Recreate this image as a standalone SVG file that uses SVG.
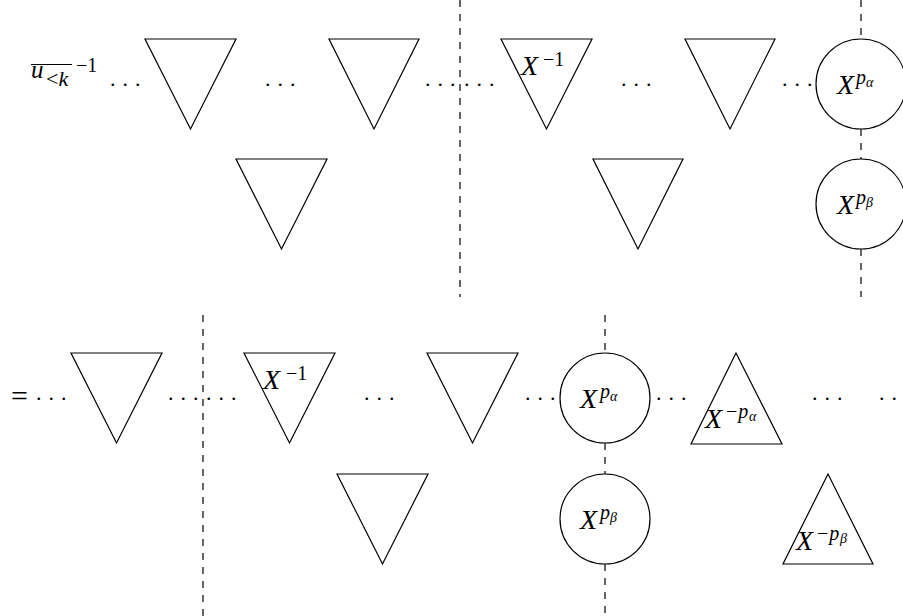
<svg xmlns="http://www.w3.org/2000/svg" width="903" height="616" viewBox="0 0 903 616">
<style>
.sh{fill:#fff;stroke:#000;stroke-width:1.2;stroke-linejoin:miter}
.dash{stroke:#000;stroke-width:1.2;stroke-dasharray:7 7;fill:none}
text{font-family:"Liberation Serif","Times New Roman",serif;fill:#000}
.it{font-style:italic}
.big{font-size:28px}
.sup{font-size:20px}
.sub{font-size:14px}
.dots{font-size:22px;letter-spacing:7px}
</style>
<rect width="903" height="616" fill="#fff"/>
<g id="connectors">
<line class="dash" x1="460" y1="0" x2="460" y2="297"/>
<line class="dash" x1="861" y1="0" x2="861" y2="39"/>
<line class="dash" x1="861" y1="129" x2="861" y2="159"/>
<line class="dash" x1="861" y1="249" x2="861" y2="297"/>
<line class="dash" x1="203" y1="315" x2="203" y2="616"/>
<line class="dash" x1="605" y1="315" x2="605" y2="353"/>
<line class="dash" x1="605" y1="443" x2="605" y2="474"/>
<line class="dash" x1="605" y1="564" x2="605" y2="616"/>
</g>
<g id="prefix">
<line x1="31" y1="64.5" x2="72" y2="64.5" stroke="#000" stroke-width="1"/>
<text x="31" y="78" class="it" style="font-size:25px">u</text>
<text x="46" y="86" style="font-size:22px">&lt;<tspan class="it">k</tspan></text>
<text x="76" y="72" class="sup">−1</text>
</g>
<g id="dots">
<text x="110" y="85.5" class="dots">...</text>
<text x="265" y="85.5" class="dots">...</text>
<text x="425" y="85.5" class="dots">...</text>
<text x="464" y="85.5" class="dots">...</text>
<text x="621" y="85.5" class="dots">...</text>
<text x="782" y="85.5" class="dots">...</text>
<text x="11" y="406" style="font-size:30px">=</text>
<text x="36" y="399.5" class="dots">...</text>
<text x="168" y="399.5" class="dots">...</text>
<text x="206" y="399.5" class="dots">...</text>
<text x="364" y="399.5" class="dots">...</text>
<text x="525" y="399.5" class="dots">...</text>
<text x="656" y="399.5" class="dots">...</text>
<text x="812" y="399.5" class="dots">...</text>
<text x="879" y="399.5" class="dots">...</text>
</g>
<g id="t1"><polygon class="sh" points="145,39 236,39 190.5,129"/></g>
<g id="t2"><polygon class="sh" points="329,39 419,39 374,129"/></g>
<g id="t3"><polygon class="sh" points="501,39 592,39 546.5,129"/>
<text x="521" y="75" class="it big">X</text><text x="543" y="66" class="sup">−1</text></g>
<g id="t4"><polygon class="sh" points="685,39 775,39 730,129"/></g>
<g id="t5"><polygon class="sh" points="236,159 327,159 281.5,249"/></g>
<g id="t6"><polygon class="sh" points="593,159 683,159 638,249"/></g>
<g id="c1"><circle class="sh" cx="861" cy="84" r="45"/>
<text x="837" y="94" class="it big">X</text><text x="856" y="84" class="it sup">p</text><text x="866" y="87" class="it sub">α</text></g>
<g id="c2"><circle class="sh" cx="861" cy="204" r="45"/>
<text x="837" y="214" class="it big">X</text><text x="856" y="204" class="it sup">p</text><text x="866" y="207" class="it sub">β</text></g>
<g id="b1"><polygon class="sh" points="71,353 162,353 116.5,443"/></g>
<g id="b2"><polygon class="sh" points="244,353 335,353 289.5,443"/>
<text x="263" y="389" class="it big">X</text><text x="286" y="380" class="sup">−1</text></g>
<g id="b3"><polygon class="sh" points="427,353 518,353 472.5,443"/></g>
<g id="b4"><polygon class="sh" points="337,474 428,474 382.5,564"/></g>
<g id="bc1"><circle class="sh" cx="605" cy="398" r="45"/>
<text x="580" y="407.5" class="it big">X</text><text x="600" y="397.5" class="it sup">p</text><text x="610" y="400.5" class="it sub">α</text></g>
<g id="bc2"><circle class="sh" cx="605" cy="519" r="45"/>
<text x="580" y="528.5" class="it big">X</text><text x="600" y="518.5" class="it sup">p</text><text x="610" y="521.5" class="it sub">β</text></g>
<g id="u1"><polygon class="sh" points="736,353 691,444 782,444"/>
<text x="705" y="428" class="it big">X</text><text x="726" y="418" class="sup">−<tspan class="it" dx="1">p</tspan></text><text x="749" y="421" class="it sub">α</text></g>
<g id="u2"><polygon class="sh" points="828,474 783,564 873,564"/>
<text x="796" y="550" class="it big">X</text><text x="817" y="540" class="sup">−<tspan class="it" dx="1">p</tspan></text><text x="840" y="543" class="it sub">β</text></g>
</svg>
